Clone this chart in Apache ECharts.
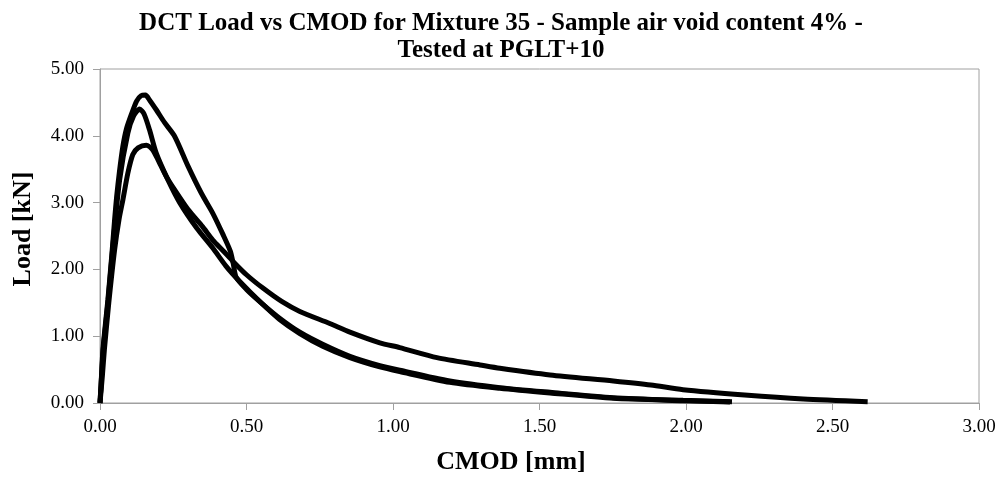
<!DOCTYPE html>
<html>
<head>
<meta charset="utf-8">
<script src="https://cdn.jsdelivr.net/npm/echarts@6/dist/echarts.min.js"></script>
<style>html,body{margin:0;padding:0;background:#fff}#c{width:1002px;height:479px}</style>
</head>
<body>
<div id="c"></div>
<script>
const titleText = "DCT Load vs CMOD for Mixture 35 - Sample air void content 4% -\nTested at PGLT+10";
const xName = "CMOD [mm]";
const yName = "Load [kN]";
const seriesNames = ["Sample 1", "Sample 2", "Sample 3"];

// Sample 1 (peak ~4.6 kN)
const sample1 = [[0,0],[0.005,0.4],[0.01,0.8],[0.02,1.25],[0.027,1.55],[0.04,2.2],[0.05,2.75],[0.057,3.1],[0.066,3.45],[0.078,3.84],[0.09,4.1],[0.107,4.32],[0.125,4.52],[0.14,4.6],[0.155,4.61],[0.17,4.53],[0.192,4.39],[0.22,4.2],[0.255,3.99],[0.3,3.55],[0.346,3.14],[0.385,2.84],[0.42,2.52],[0.445,2.27],[0.455,2.08],[0.465,1.88],[0.5,1.7],[0.55,1.5],[0.613,1.27],[0.682,1.06],[0.76,0.88],[0.853,0.7],[0.955,0.56],[1.023,0.49],[1.194,0.33],[1.365,0.23],[1.536,0.16],[1.752,0.08],[1.99,0.04],[2.157,0.02]];

// Sample 2 (peak ~4.4 kN)
const sample2 = [[0,0],[0.006,0.45],[0.012,0.85],[0.027,1.5],[0.045,2.4],[0.067,3.34],[0.095,4.04],[0.115,4.3],[0.135,4.4],[0.15,4.33],[0.169,4.09],[0.192,3.74],[0.232,3.34],[0.272,3.0],[0.33,2.62],[0.385,2.32],[0.43,2.05],[0.477,1.82],[0.55,1.5],[0.613,1.25],[0.682,1.04],[0.76,0.85],[0.853,0.68],[0.955,0.54],[1.023,0.47],[1.194,0.31],[1.365,0.22],[1.536,0.15],[1.752,0.07],[1.99,0.035],[2.15,0.015]];

// Sample 3 (peak ~3.86 kN)
const sample3 = [[0,0],[0.008,0.4],[0.015,0.8],[0.03,1.5],[0.05,2.3],[0.065,2.75],[0.078,3.04],[0.095,3.44],[0.112,3.72],[0.13,3.82],[0.158,3.86],[0.178,3.8],[0.198,3.64],[0.225,3.4],[0.255,3.19],[0.3,2.9],[0.35,2.64],[0.385,2.44],[0.42,2.28],[0.454,2.12],[0.5,1.92],[0.556,1.72],[0.62,1.52],[0.682,1.37],[0.784,1.19],[0.853,1.06],[0.955,0.9],[1.023,0.83],[1.15,0.68],[1.297,0.57],[1.365,0.52],[1.536,0.42],[1.752,0.33],[1.88,0.27],[1.99,0.2],[2.2,0.12],[2.4,0.06],[2.62,0.02]];

const chart = echarts.init(document.getElementById('c'), null, {renderer: 'canvas'});
const serif = "'Liberation Serif', 'Times New Roman', serif";
const axisGrey = '#a0a0a0';
const mk = (name, data) => ({
  name, type: 'line', data, showSymbol: false, smooth: 0.25,
  lineStyle: {color: '#000', width: 5}, itemStyle: {color: '#000'}, z: 3
});
chart.setOption({
  backgroundColor: '#fff',
  animation: false,
  title: {
    text: titleText, left: 'center', top: 5,
    textStyle: {fontFamily: serif, fontWeight: 'bold', fontSize: 25, color: '#000', lineHeight: 27}
  },
  grid: {left: 100, right: 23, top: 69, bottom: 76, outerBoundsMode: 'none', containLabel: false,
         show: true, borderColor: axisGrey, borderWidth: 1},
  xAxis: {
    type: 'value', min: 0, max: 3, interval: 0.5,
    name: xName, nameLocation: 'middle', nameGap: 46,
    nameTextStyle: {fontFamily: serif, fontWeight: 'bold', fontSize: 26, color: '#000', padding: [0, 57, 0, 0]},
    axisLine: {show: true, lineStyle: {color: axisGrey}},
    axisTick: {show: true, length: 7, lineStyle: {color: axisGrey}},
    axisLabel: {fontFamily: serif, fontSize: 19, color: '#000', margin: 15, formatter: v => v.toFixed(2)},
    splitLine: {show: false}
  },
  yAxis: {
    type: 'value', min: 0, max: 5, interval: 1,
    name: yName, nameLocation: 'middle', nameGap: 64, nameRotate: 90,
    nameTextStyle: {fontFamily: serif, fontWeight: 'bold', fontSize: 26, color: '#000', padding: [0, 0, 0, 14]},
    axisLine: {show: true, lineStyle: {color: axisGrey}},
    axisTick: {show: true, length: 7, lineStyle: {color: axisGrey}},
    axisLabel: {fontFamily: serif, fontSize: 19, color: '#000', margin: 16, formatter: v => v.toFixed(2)},
    splitLine: {show: false}
  },
  series: [mk(seriesNames[0], sample1), mk(seriesNames[1], sample2), mk(seriesNames[2], sample3)]
});
</script>
</body>
</html>
